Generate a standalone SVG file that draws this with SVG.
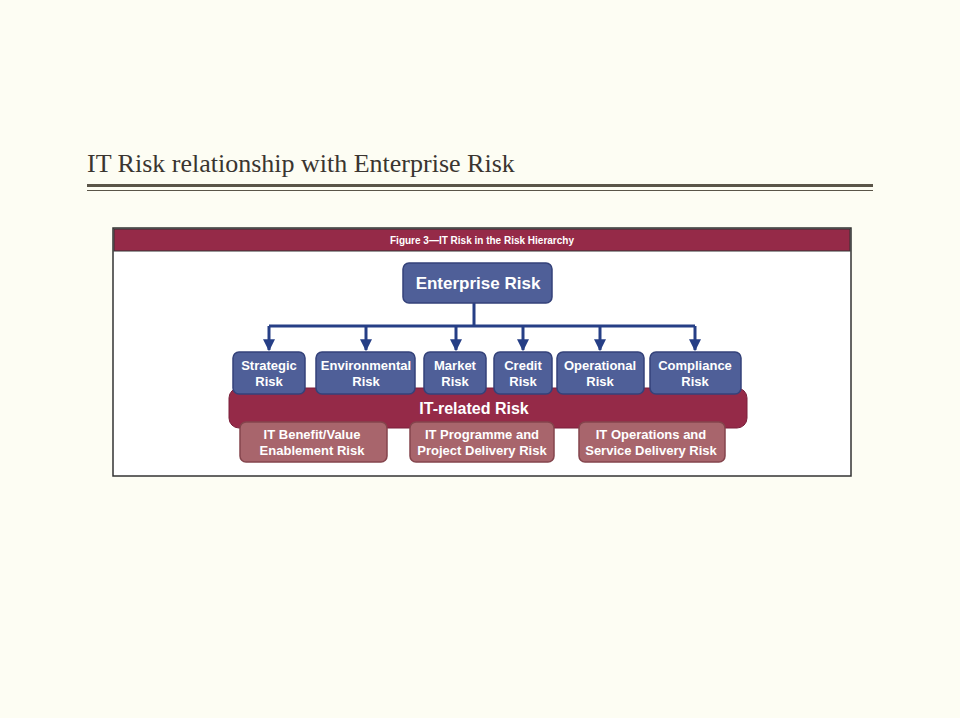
<svg xmlns="http://www.w3.org/2000/svg" width="960" height="718" viewBox="0 0 960 718">
<style>
.b{fill:#4f5f98;stroke:#34427a;stroke-width:1.5}
.r{fill:#a8656c;stroke:#84444c;stroke-width:1.5}
.t{font-family:"Liberation Sans",Arial,sans-serif;font-weight:bold;fill:#fff;text-anchor:middle;font-size:13px}
.c{stroke:#263f86;stroke-width:3;fill:none}
</style>
<defs><marker id="a" viewBox="0 0 10 10" refX="9" refY="5" markerWidth="4" markerHeight="4" orient="auto" markerUnits="strokeWidth"><path d="M0,0L10,5L0,10z" fill="#263f86"/></marker></defs>
<rect width="960" height="718" fill="#fdfdf3"/>
<text x="87" y="172" font-family="Liberation Serif,serif" font-size="26" fill="#3a3530">IT Risk relationship with Enterprise Risk</text>
<rect x="87" y="184" width="786" height="3" fill="#5a5548"/>
<rect x="87" y="190" width="786" height="1" fill="#5a5548"/>
<rect x="113" y="228" width="738" height="248" fill="#fff" stroke="#333" stroke-width="1.5"/>
<rect x="114" y="229" width="736" height="22" fill="#952a48" stroke="#333" stroke-width="1"/>
<text x="482" y="244" class="t" style="font-size:10px">Figure 3—IT Risk in the Risk Hierarchy</text>
<g id="connectors">
<path class="c" d="M474,303V326M269,326H695"/>
<path class="c" d="M269,326V350" marker-end="url(#a)"/>
<path class="c" d="M366,326V350" marker-end="url(#a)"/>
<path class="c" d="M456,326V350" marker-end="url(#a)"/>
<path class="c" d="M523,326V350" marker-end="url(#a)"/>
<path class="c" d="M600,326V350" marker-end="url(#a)"/>
<path class="c" d="M695,326V350" marker-end="url(#a)"/>
</g>
<g id="it-related"><rect x="229" y="388" width="518" height="40" rx="10" fill="#952a48" stroke="#7a1f3a"/><text class="t" x="474" y="414" style="font-size:16px">IT-related Risk</text></g>
<g id="enterprise"><rect class="b" x="403" y="263" width="149" height="40" rx="6"/><text class="t" x="478" y="289" style="font-size:17px">Enterprise Risk</text></g>
<g id="strategic"><rect class="b" x="233" y="352" width="72" height="42" rx="6"/><text class="t" x="269" y="370">Strategic</text><text class="t" x="269" y="386">Risk</text></g>
<g id="environmental"><rect class="b" x="316" y="352" width="99" height="42" rx="6"/><text class="t" x="366" y="370">Environmental</text><text class="t" x="366" y="386">Risk</text></g>
<g id="market"><rect class="b" x="424" y="352" width="62" height="42" rx="6"/><text class="t" x="455" y="370">Market</text><text class="t" x="455" y="386">Risk</text></g>
<g id="credit"><rect class="b" x="494" y="352" width="58" height="42" rx="6"/><text class="t" x="523" y="370">Credit</text><text class="t" x="523" y="386">Risk</text></g>
<g id="operational"><rect class="b" x="557" y="352" width="87" height="42" rx="6"/><text class="t" x="600" y="370">Operational</text><text class="t" x="600" y="386">Risk</text></g>
<g id="compliance"><rect class="b" x="650" y="352" width="91" height="42" rx="6"/><text class="t" x="695" y="370">Compliance</text><text class="t" x="695" y="386">Risk</text></g>
<g id="benefit"><rect class="r" x="240" y="422" width="147" height="40" rx="6"/><text class="t" x="312" y="439">IT Benefit/Value</text><text class="t" x="312" y="455">Enablement Risk</text></g>
<g id="programme"><rect class="r" x="410" y="422" width="144" height="40" rx="6"/><text class="t" x="482" y="439">IT Programme and</text><text class="t" x="482" y="455">Project Delivery Risk</text></g>
<g id="operations"><rect class="r" x="579" y="422" width="146" height="40" rx="6"/><text class="t" x="651" y="439">IT Operations and</text><text class="t" x="651" y="455">Service Delivery Risk</text></g>
</svg>
